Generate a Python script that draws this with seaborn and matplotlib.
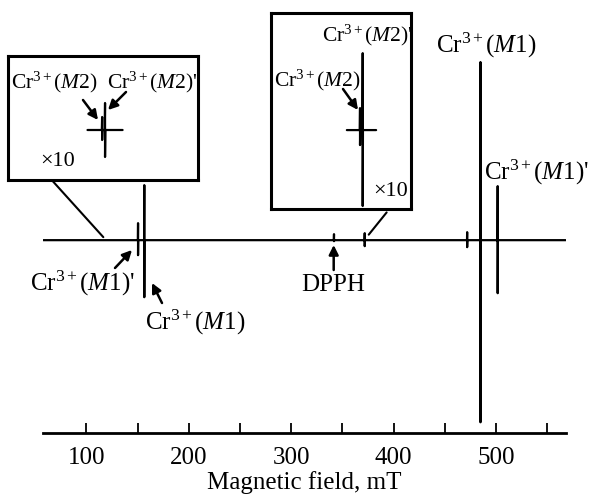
import matplotlib
matplotlib.use("Agg")
import matplotlib.pyplot as plt
import seaborn as sns
import pandas as pd
from matplotlib.patches import ConnectionPatch

sns.set_theme(style="white")
plt.rcParams['font.family'] = ['Liberation Serif', 'DejaVu Serif']
plt.rcParams['mathtext.fontset'] = 'custom'
plt.rcParams['mathtext.rm'] = 'Liberation Serif'
plt.rcParams['mathtext.it'] = 'Liberation Serif:italic'

W, H = 590, 499

# ---- data ----
field_range = [58, 568]                      # mT
xticks = [100, 150, 200, 250, 300, 350, 400, 450, 500, 550]
xtick_labels = ['100', '', '200', '', '300', '', '400', '', '500', '']

# main spectrum: line positions (mT), positive and negative lobes (arb. units)
peak_field = [150.5, 156.6, 341.8, 371.8, 471.8, 484.8, 501.6]
peak_top = [17, 55, 6, 7, 8, 178, 54]
peak_bottom = [-15, -57, -1, -6, -7, -182, -53]

# inset 1 (x10), around 116 mT
ins1_range = [110.6, 122.6]
ins1_field = [115.6, 116.6]
ins1_top = [13, 27]
ins1_bottom = [-10, -27]

# inset 2 (x10), around 372 mT
ins2_range = [366.0, 378.0]
ins2_field = [371.4, 372.5]
ins2_top = [22, 77]
ins2_bottom = [-15, -76]


def build_trace(rng, fields, tops, bottoms, w=0.15):
    xs, ys = [rng[0]], [0]
    for f, t, b in zip(fields, tops, bottoms):
        xs += [f - w, f, f, f + w]
        ys += [0, t, b, 0]
    xs.append(rng[1]); ys.append(0)
    return pd.DataFrame({'field': xs, 'signal': ys, 'order': range(len(xs))})


def fp(x, y):
    return (x / W, 1 - y / H)


fig = plt.figure(figsize=(W / 100, H / 100), dpi=100)

# main axes
ax_l, ax_r, ax_b = 43.3, 565.7, 433.3
ax = fig.add_axes([ax_l / W, 1 - ax_b / H, (ax_r - ax_l) / W, ax_b / H])
main = build_trace(field_range, peak_field, peak_top, peak_bottom)
sns.lineplot(data=main, x='field', y='signal', sort=False, estimator=None,
             color='black', lw=1.6, ax=ax)
ax.set_xlim(field_range)
ax.set_ylim(-193, 240)
for s in ['left', 'top', 'right']:
    ax.spines[s].set_visible(False)
ax.spines['bottom'].set_linewidth(2.0)
ax.spines['bottom'].set_color('black')
ax.set_xticks(xticks)
ax.set_xticklabels(xtick_labels)
ax.set_yticks([])
ax.tick_params(axis='x', direction='in', length=7.5, width=1.3, colors='black',
               labelsize=18, pad=10, bottom=True)
ax.set_xlabel('Magnetic field, mT', fontsize=18, labelpad=1, color='black')
ax.set_ylabel('')
ax.patch.set_alpha(0)


# insets
def make_inset(box, rng, fields, tops, bottoms, xlim, ylim):
    x0, y0, x1, y1 = box
    ia = fig.add_axes([x0 / W, 1 - y1 / H, (x1 - x0) / W, (y1 - y0) / H])
    df = build_trace(rng, fields, tops, bottoms, w=0.1)
    sns.lineplot(data=df, x='field', y='signal', sort=False, estimator=None,
                 color='black', lw=1.6, ax=ia)
    ia.set_xlim(xlim); ia.set_ylim(ylim)
    ia.set_xticks([]); ia.set_yticks([])
    ia.set_xlabel(''); ia.set_ylabel('')
    for s in ia.spines.values():
        s.set_linewidth(2.2); s.set_color('black'); s.set_visible(True)
    return ia

ins1 = make_inset((8, 56, 198, 180), ins1_range, ins1_field, ins1_top, ins1_bottom,
                  (83.4, 148.4), (-50, 74))
ins2 = make_inset((271, 13, 411, 208.5), ins2_range, ins2_field, ins2_top, ins2_bottom,
                  (334.9, 392.3), (-78.5, 117.2))

con1 = ConnectionPatch(xyA=(0.23, 0), coordsA=ins1.transAxes,
                       xyB=(116.6, 3), coordsB=ax.transData, color='black', lw=1.5)
fig.add_artist(con1)
con2 = ConnectionPatch(xyA=(0.826, -0.02), coordsA=ins2.transAxes,
                       xyB=(375.7, 5.5), coordsB=ax.transData, color='black', lw=1.5)
fig.add_artist(con2)

arrow = dict(arrowstyle='-|>', lw=1.8, color='black', mutation_scale=14,
             shrinkA=0, shrinkB=0)

def label(txt, x, y, size=18):
    fig.text(*fp(x, y), txt, ha='center', va='center', fontsize=size, color='black')

def arr(x0, y0, x1, y1):
    fig.add_artist(matplotlib.patches.FancyArrowPatch(fp(x0, y0), fp(x1, y1),
                   transform=fig.transFigure, **arrow))

M1 = r'Cr$^{3+}$($\mathit{M1}$)'
M2 = r'Cr$^{3+}$($\mathit{M2}$)'

label(M1, 486, 45)
label(M1 + "'", 536, 172)
label(M1 + "'", 82, 283)
label(M1, 195, 322)
label('DPPH', 333, 285)
label(M2, 54, 82, 15.5)
label(M2 + "'", 152, 82, 15.5)
label(r'×10', 58, 162, 16)
label(M2 + "'", 367, 35, 15.5)
label(M2, 317, 80, 15.5)
label(r'×10', 391, 192, 16)

arr(115, 268, 132, 250)
arr(162, 303, 152, 283)
arr(333.7, 270, 333.7, 245)
arr(83, 100, 98, 120)
arr(126, 92, 108, 110)
arr(343, 89, 358, 110)

fig.savefig('out.png', dpi=100)
